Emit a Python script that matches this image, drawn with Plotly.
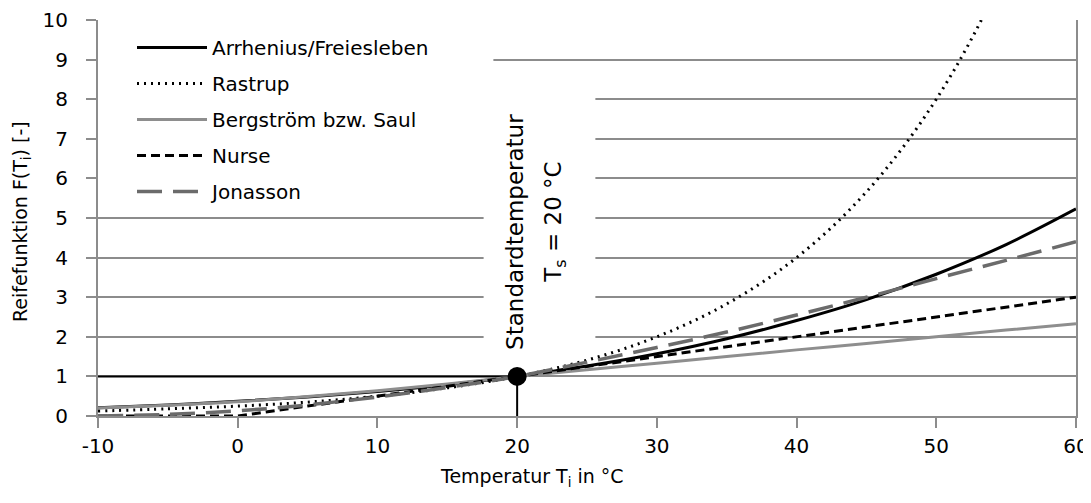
import plotly.graph_objects as go

# Temperatur in °C
temp = [-10, -5, 0, 5, 10, 15, 20, 25, 30, 35, 40, 45, 50, 55, 60]

# Reifefunktionen F(T_i)
arrhenius = [0.21, 0.28, 0.37, 0.48, 0.62, 0.79, 1.0, 1.26, 1.57, 1.95, 2.41, 2.94, 3.58, 4.33, 5.23]
rastrup = [0.125, 0.18, 0.25, 0.35, 0.5, 0.71, 1.0, 1.41, 2.0, 2.83, 4.0, 5.66, 8.0, 11.3, 16.0]
bergstroem = [0.2, 0.27, 0.36, 0.49, 0.64, 0.81, 1.0, 1.17, 1.33, 1.5, 1.67, 1.83, 2.0, 2.17, 2.33]
nurse = [0, 0, 0, 0.25, 0.5, 0.75, 1.0, 1.25, 1.5, 1.75, 2.0, 2.25, 2.5, 2.75, 3.0]
jonasson = [0.0, 0.04, 0.13, 0.28, 0.48, 0.72, 1.0, 1.36, 1.73, 2.12, 2.55, 3.0, 3.47, 3.93, 4.4]

# Standardtemperatur
t_standard = 20
f_standard = 1

x_ticks = [-10, 0, 10, 20, 30, 40, 50, 60]
x_ticktext = ["-10", "0", "10", "20", "30", "40", "50", "60"]
y_ticks = [0, 1, 2, 3, 4, 5, 6, 7, 8, 9, 10]

FONT = "DejaVu Sans"
GRID = "#8c8c8c"

# die Seite hat 8px Rand (body margin), daher alles um 8px verschoben
OFF = 8
W, H = 1091, 503
L, R, T, B = 90, 23, 12, 95

fig = go.Figure()

# Hilfslinien Standardtemperatur
fig.add_trace(go.Scatter(
    x=[temp[0], t_standard], y=[f_standard, f_standard], mode="lines",
    line=dict(color="black", width=2), showlegend=False, hoverinfo="skip"
))
fig.add_trace(go.Scatter(
    x=[t_standard, t_standard], y=[0, f_standard], mode="lines",
    line=dict(color="black", width=2), showlegend=False, hoverinfo="skip"
))

series = [
    ("Arrhenius/Freiesleben", arrhenius, dict(color="black", width=3), "spline"),
    ("Rastrup", rastrup, dict(color="black", width=3, dash="2px,5px"), "spline"),
    ("Bergström bzw. Saul", bergstroem, dict(color="#8e8e8e", width=3), "spline"),
    ("Nurse", nurse, dict(color="black", width=3, dash="9px,5px"), "linear"),
    ("Jonasson", jonasson, dict(color="#6b6b6b", width=3.5, dash="25px,11px"), "spline"),
]

for name, vals, line, shape in series:
    fig.add_trace(go.Scatter(
        x=temp, y=vals, mode="lines", name=name, legendgroup=name,
        line=dict(shape=shape, **line)
    ))

fig.add_trace(go.Scatter(
    x=[t_standard], y=[f_standard], mode="markers",
    marker=dict(color="black", size=19), showlegend=False, hoverinfo="skip"
))

# weiße Flächen hinter Legende und Beschriftung
fig.add_shape(type="rect", layer="between", x0=-10, x1=18.3, y0=5.3, y1=9.6,
              fillcolor="white", line=dict(width=0))
fig.add_shape(type="rect", layer="between", x0=17.6, x1=25.6, y0=1.5, y1=8.6,
              fillcolor="white", line=dict(width=0))

fig.add_annotation(x=19.85, y=4.65, xref="x", yref="y", text="Standardtemperatur",
                   textangle=-90, showarrow=False, xanchor="center", yanchor="middle",
                   font=dict(family=FONT, size=23, color="black"))
fig.add_annotation(x=22.7, y=4.9, xref="x", yref="y", text="T<sub>s</sub> = 20 °C",
                   textangle=-90, showarrow=False, xanchor="center", yanchor="middle",
                   font=dict(family=FONT, size=23, color="black"))


# Bildschirmpixel -> Papierkoordinaten
def px(x):
    return (x - OFF - L) / (W - L - R)


def py(y):
    return 1 - (y - OFF - T) / (H - T - B)


fig.add_annotation(x=px(532), y=py(477), xref="paper", yref="paper",
                   text="Temperatur T<sub>i</sub> in °C", showarrow=False,
                   xanchor="center", yanchor="middle",
                   font=dict(family=FONT, size=19, color="black"))
fig.add_annotation(x=px(22), y=py(222), xref="paper", yref="paper",
                   text="Reifefunktion F(T<sub>i</sub>) [-]", textangle=-90, showarrow=False,
                   xanchor="center", yanchor="middle",
                   font=dict(family=FONT, size=19, color="black"))

fig.update_layout(
    width=W, height=H,
    margin=dict(l=L, r=R, t=T, b=B, autoexpand=False),
    plot_bgcolor="white", paper_bgcolor="white",
    font=dict(family=FONT, size=20, color="black"),
    showlegend=True,
    legend=dict(
        x=px(132), y=py(28), xanchor="left", yanchor="top",
        bgcolor="rgba(0,0,0,0)", itemwidth=70, tracegroupgap=7,
        font=dict(family=FONT, size=20, color="black")
    ),
    xaxis=dict(
        range=[-10, 60], tickmode="array", tickvals=x_ticks, ticktext=x_ticktext,
        showgrid=False, zeroline=False, showline=True, linecolor=GRID, linewidth=2,
        ticks="outside", ticklen=10, tickcolor=GRID, tickwidth=2, layer="below traces",
        ticklabelstandoff=1
    ),
    yaxis=dict(
        range=[0, 10], tickmode="array", tickvals=y_ticks,
        showgrid=True, gridcolor=GRID, gridwidth=2, zeroline=False,
        showline=True, linecolor=GRID, linewidth=2, mirror=True,
        ticks="outside", ticklen=10, tickcolor=GRID, tickwidth=2, layer="below traces",
        ticklabelstandoff=14
    ),
)

fig.write_html("out.html")
